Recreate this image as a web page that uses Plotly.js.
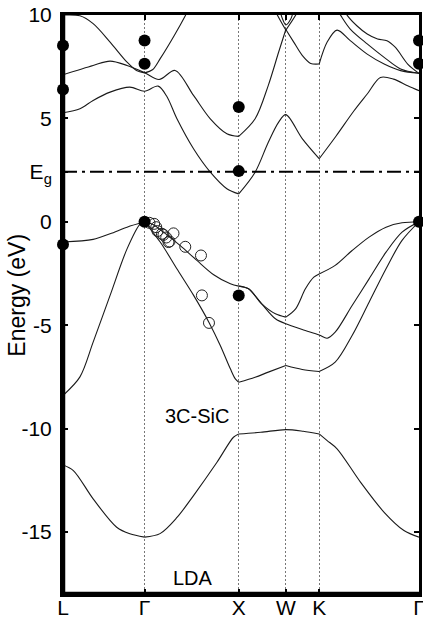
<!DOCTYPE html>
<html>
<head>
<meta charset="utf-8">
<script src="https://cdn.plot.ly/plotly-3.0.1.min.js"></script>
<style>html,body{margin:0;padding:0;background:#fff;}#chart{width:423px;height:622px;}</style>
</head>
<body>
<div id="chart"></div>
<script>
// High-symmetry points (k-path positions)
const kLabels = ['L', 'Γ', 'X', 'W', 'K', 'Γ'];
const kPos = [0, 0.866, 1.866, 2.366, 2.72, 3.78];

// Experimental gap
const Eg = 2.42;

// Y ticks
const yTickVals = [10, 5, Eg, 0, -5, -10, -15];
const yTickText = ['10', '5', 'E<sub>g</sub>', '0', '-5', '-10', '-15'];

// Bands (k, E) – segments separated by null
const band1_k = [0, 0.11, 0.32, 0.57, 0.71, 0.866, null, 0.866, 1.03, 1.21, 1.386, 1.635, 1.81, 1.866, null, 1.866, 2.1, 2.366, 2.55, 2.72, null, 2.72, 2.805, 2.91, 3.16, 3.41, 3.62, 3.78];
const band1_E = [-11.76, -12.03, -13.4, -14.77, -15.09, -15.25, null, -15.25, -15.08, -14.3, -13.24, -11.63, -10.42, -10.26, null, -10.26, -10.18, -10.05, -10.13, -10.26, null, -10.26, -10.58, -10.98, -12.6, -14.05, -14.93, -15.25];

const band2_k = [0, 0.18, 0.32, 0.5, 0.68, 0.82, 0.866, null, 0.866, 1.032, 1.209, 1.387, 1.553, 1.67, 1.777, 1.83, 1.866, null, 1.866, 2.04, 2.18, 2.366, null, 2.366, 2.54, 2.72, null, 2.72, 2.89, 3.07, 3.25, 3.43, 3.6, 3.78];
const band2_E = [-8.4, -7.5, -5.82, -3.56, -1.31, -0.1, 0, null, 0, -0.98, -2.27, -3.56, -4.89, -5.98, -7.11, -7.6, -7.76, null, -7.76, -7.52, -7.27, -6.95, null, -6.95, -7.14, -7.24, null, -7.24, -6.79, -5.5, -3.89, -2.27, -0.9, 0];

const band3_k = [0, 0.32, 0.5, 0.68, 0.866, null, 0.866, 0.95, 1.067, 1.245, 1.422, 1.6, 1.777, 1.866, null, 1.866, 1.97, 2.11, 2.255, 2.366, null, 2.366, 2.54, 2.72, 2.805, 2.89, 3.07, 3.25, 3.43, 3.6, 3.78];
const band3_E = [-0.98, -0.85, -0.58, -0.26, 0, null, 0, -0.12, -0.5, -1.15, -1.87, -2.56, -3.0, -3.11, null, -3.11, -3.24, -3.97, -4.69, -4.93, null, -4.93, -5.21, -5.47, -5.63, -5.34, -4.05, -2.76, -1.47, -0.5, 0];

const band4_k = [1.866, 1.97, 2.11, 2.255, 2.366, null, 2.366, 2.47, 2.574, 2.663, 2.72, null, 2.72, 2.89, 3.07, 3.25, 3.43, 3.6, 3.78];
const band4_E = [-3.11, -3.24, -3.97, -4.45, -4.61, null, -4.61, -4.21, -3.24, -2.68, -2.52, null, -2.52, -2.11, -1.39, -0.74, -0.26, -0.05, 0];

const band5_k = [0, 0.18, 0.32, 0.5, 0.71, 0.866, 1.01, 1.1, 1.21, 1.386, 1.564, 1.74, 1.866, null, 1.866, 2.04, 2.18, 2.29, 2.366, 2.54, 2.72, null, 2.72, 2.9, 3.09, 3.23, 3.37, 3.51, 3.66, 3.78];
const band5_E = [5.27, 5.47, 5.87, 6.27, 6.51, 6.31, 6.56, 6.08, 4.98, 3.53, 2.4, 1.6, 1.35, null, 1.35, 2.4, 3.85, 4.82, 5.18, 4.02, 3.05, null, 3.05, 4.15, 5.37, 6.18, 6.98, 6.9, 6.58, 6.34];

const band6_k = [0, 0.32, 0.5, 0.68, 0.866, 1.02, 1.19, 1.386, 1.564, 1.74, 1.866, null, 1.866, 2.04, 2.18, 2.29, 2.366, null, 2.366, 2.45, 2.54, 2.63, 2.72, null, 2.72, 2.805, 2.91, 3.05, 3.23, 3.41, 3.585, 3.78];
const band6_E = [7.11, 7.56, 7.77, 7.56, 7.21, 6.88, 7.32, 6.11, 4.98, 4.26, 4.13, null, 4.13, 4.98, 6.6, 8.21, 9.3, null, 9.3, 8.69, 8.05, 7.66, 7.63, null, 7.63, 8.69, 9.27, 8.76, 8.11, 7.63, 7.31, 7.18];

const band7_k = [0, 0.18, 0.32, 0.5, 0.68, 0.78, 0.866, null, 0.866, 0.95, 1.032, 1.18, 1.3, 1.4, null, 2.2, 2.277, 2.366, null, 2.366, 2.47, 2.55, null, 2.88, 2.95, 3.05, 3.23, 3.41, 3.585, 3.78];
const band7_E = [10.0, 9.96, 9.58, 8.69, 7.72, 7.32, 7.2, null, 7.2, 7.35, 7.89, 9.0, 9.98, 10.9, null, 10.7, 9.99, 9.27, null, 9.27, 9.99, 10.7, null, 10.5, 9.97, 9.32, 8.6, 7.95, 7.39, 7.18];

const band8_k = [2.31, 2.33, 2.366, 2.42, 2.44, null, 2.98, 3.02, 3.12, 3.23, 3.34, 3.44, 3.53, 3.66, 3.78];
const band8_E = [10.1, 9.82, 9.52, 9.82, 10.1, null, 10.3, 9.97, 9.48, 9.08, 8.84, 8.76, 8.43, 7.63, 7.18];

// Filled dots at high-symmetry points
const dots_k = [0, 0, 0, 0.866, 0.866, 0.866, 1.866, 1.866, 1.866, 3.78, 3.78, 3.78];
const dots_E = [8.53, 6.4, -1.1, 8.77, 7.64, 0, 5.55, 2.45, -3.56, 8.77, 7.64, 0];

// Open circles along Γ-X
const circ_k = [0.918, 0.968, 0.99, 1.003, 1.05, 1.067, 1.096, 1.12, 1.131, 1.173, 1.298, 1.465, 1.475, 1.55];
const circ_E = [-0.05, -0.1, -0.26, -0.45, -0.58, -0.63, -0.76, -0.98, -0.95, -0.56, -1.21, -1.63, -3.56, -4.89];

const FONT = 'Liberation Sans, Arial, Helvetica, sans-serif';
const bandLine = {color: '#1a1a1a', width: 1.1, shape: 'spline', smoothing: 0.9};

const bands = [
  [band1_k, band1_E], [band2_k, band2_E], [band3_k, band3_E], [band4_k, band4_E],
  [band5_k, band5_E], [band6_k, band6_E], [band7_k, band7_E], [band8_k, band8_E]
];

const traces = bands.map(b => ({
  x: b[0], y: b[1], type: 'scatter', mode: 'lines', line: bandLine,
  connectgaps: false, hoverinfo: 'skip', showlegend: false
}));

traces.push({
  x: [kPos[0], kPos[kPos.length - 1]], y: [Eg, Eg], type: 'scatter', mode: 'lines',
  line: {color: '#000', width: 2, dash: '14px,5px,3px,5px'}, showlegend: false, hoverinfo: 'skip'
});

traces.push({
  x: circ_k, y: circ_E, type: 'scatter', mode: 'markers',
  marker: {symbol: 'circle-open', size: 11, color: '#222', line: {width: 1, color: '#222'}},
  showlegend: false, hoverinfo: 'skip'
});

traces.push({
  x: dots_k, y: dots_E, type: 'scatter', mode: 'markers', cliponaxis: false,
  marker: {symbol: 'circle', size: 12, color: '#000'},
  showlegend: false, hoverinfo: 'skip'
});

const layout = {
  width: 423, height: 622,
  margin: {l: 63, r: 4, t: 15, b: 28},
  paper_bgcolor: '#fff', plot_bgcolor: '#fff',
  font: {family: FONT, size: 20, color: '#000'},
  xaxis: {
    range: [0, 3.78], tickvals: kPos, ticktext: kLabels,
    showline: true, linewidth: 3, linecolor: '#000', mirror: 'ticks',
    ticks: 'inside', ticklen: 5, tickwidth: 2, tickcolor: '#000',
    showgrid: true, gridcolor: '#777', gridwidth: 1, griddash: '2px,2px',
    zeroline: false, ticklabelstandoff: -7, ticklabeloverflow: 'allow',
    tickfont: {family: FONT, size: 21, color: '#000'}, fixedrange: true
  },
  yaxis: {
    range: [-18, 10], tickvals: yTickVals, ticktext: yTickText,
    showline: true, linewidth: 3, linecolor: '#000', mirror: 'ticks',
    ticks: 'inside', ticklen: 5, tickwidth: 2, tickcolor: '#000',
    showgrid: false, zeroline: false, ticklabelstandoff: 4,
    tickfont: {family: FONT, size: 21, color: '#000'}, fixedrange: true
  },
  shapes: [
    {type: 'line', xref: 'paper', yref: 'paper', x0: 0, x1: 0, y0: 0, y1: 1, line: {color: '#000', width: 4.5}},
    {type: 'line', xref: 'paper', yref: 'paper', x0: 0, x1: 1, y0: 0, y1: 0, line: {color: '#000', width: 4.5}}
  ],
  annotations: [
    {text: 'Energy (eV)', xref: 'paper', yref: 'paper', x: -0.128, y: 0.516, textangle: -90,
     showarrow: false, font: {family: FONT, size: 23, color: '#000'}, xanchor: 'center', yanchor: 'middle'},
    {text: '3C-SiC', x: 1.418, y: -9.39, xref: 'x', yref: 'y', showarrow: false,
     font: {family: FONT, size: 20, color: '#000'}},
    {text: 'LDA', x: 1.383, y: -17.22, xref: 'x', yref: 'y', showarrow: false,
     font: {family: FONT, size: 20, color: '#000'}}
  ]
};

Plotly.newPlot('chart', traces, layout, {displayModeBar: false, staticPlot: true});
</script>
</body>
</html>
